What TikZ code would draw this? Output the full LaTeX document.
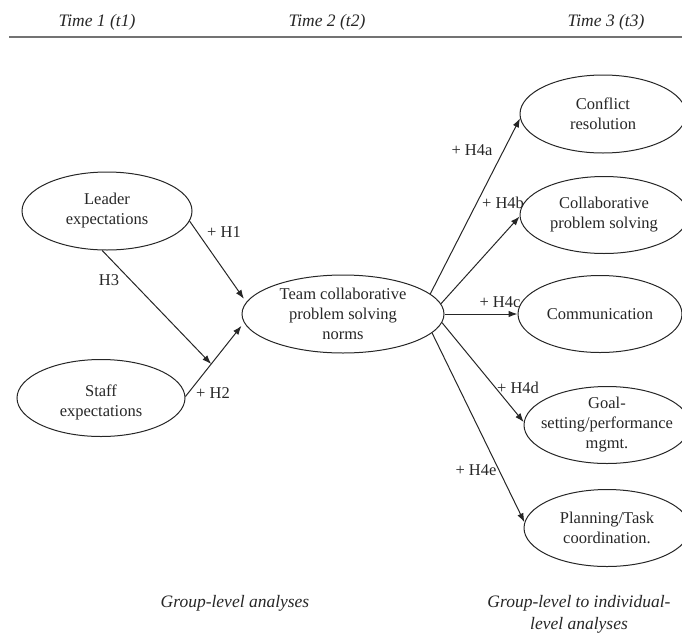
\documentclass[tikz,border=0pt]{standalone}
\usepackage{fontspec}
\setmainfont{Liberation Serif}
\usetikzlibrary{shapes.geometric,arrows.meta,calc}
\begin{document}
\begin{tikzpicture}[x=1pt,y=-1pt,
  body/.style={font=\fontsize{16.5}{20}\selectfont, text=black!85, align=center, inner sep=0pt},
  hdr/.style={font=\fontsize{17.5}{22}\selectfont\itshape, text=black!85, align=center, inner sep=0pt},
  ell/.style={draw=black!85, ellipse, line width=1pt, inner sep=0pt},
  arr/.style={draw=black!85, line width=1pt, -{Latex[length=9pt,width=6.5pt]}}
]
\useasboundingbox (0,0) rectangle (682,632);

% header
\node[hdr] (t1) at (97,22) {Time 1 (t1)};
\node[hdr] (t2) at (327,22) {Time 2 (t2)};
\node[hdr] (t3) at (606,22) {Time 3 (t3)};
\coordinate (rl) at (9,37);
\coordinate (rr) at (682,37);
\draw[black!55, line width=2pt] (rl) -- (rr);

% left ellipses
\node[ell, minimum width=170, minimum height=78] (leader) at (107,211) {};
\node[body] (leadert) at (leader) {Leader\\expectations};
\node[ell, minimum width=168, minimum height=77] (staff) at (101,398) {};
\node[body] (stafft) at ([yshift=-4pt]staff.center) {Staff\\expectations};

% center
\node[ell, minimum width=202, minimum height=78] (team) at (343,314) {};
\node[body] (teamt) at (team) {Team collaborative\\problem solving\\norms};

% right ellipses
\node[ell, minimum width=166, minimum height=78] (conf) at (603,114) {};
\node[body] (conft) at (conf) {Conflict\\resolution};
\node[ell, minimum width=168, minimum height=77] (collab) at (604,215) {};
\node[body] (collabt) at (collab) {Collaborative\\problem solving};
\node[ell, minimum width=164, minimum height=77] (comm) at (600,314) {};
\node[body] (commt) at (comm) {Communication};
\node[ell, minimum width=166, minimum height=77] (goal) at (607,425) {};
\node[body] (goalt) at (goal) {Goal-\\setting/performance\\mgmt.};
\node[ell, minimum width=166, minimum height=77] (plan) at (607,528) {};
\node[body] (plant) at (plan) {Planning/Task\\coordination.};

% left arrows
\draw[arr, shorten >=4pt] (leader.-7) -- (team.173);
\draw[arr, shorten >=4pt] (staff.1) -- (team.185);
\coordinate (h3end) at ($(staff.1)!0.44!(team.185)$);
\draw[arr] (leader.-97) -- (h3end);

% right arrows
\draw[arr] (team.13) -- (conf.183);
\draw[arr] (team.6) -- (collab.181);
\draw[arr] (team.east) -- (comm.west);
\draw[arr] (team.-5) -- (goal.178);
\draw[arr] (team.-12) -- (plan.176);

% arrow labels
\node[body] (lh1) at (224,232) {+ H1};
\node[body] (lh3) at (109,280) {H3};
\node[body] (lh2) at (213,393) {+ H2};
\node[body] (lh4a) at (472,150) {+ H4a};
\node[body] (lh4b) at (503,203) {+ H4b};
\node[body] (lh4c) at (500,302) {+ H4c};
\node[body] (lh4d) at (518,388) {+ H4d};
\node[body] (lh4e) at (476,470) {+ H4e};

% bottom
\node[hdr] (b1) at (235,603) {Group-level analyses};
\node[hdr] (b2) at (579,614) {Group-level to individual-\\level analyses};
\end{tikzpicture}
\end{document}
